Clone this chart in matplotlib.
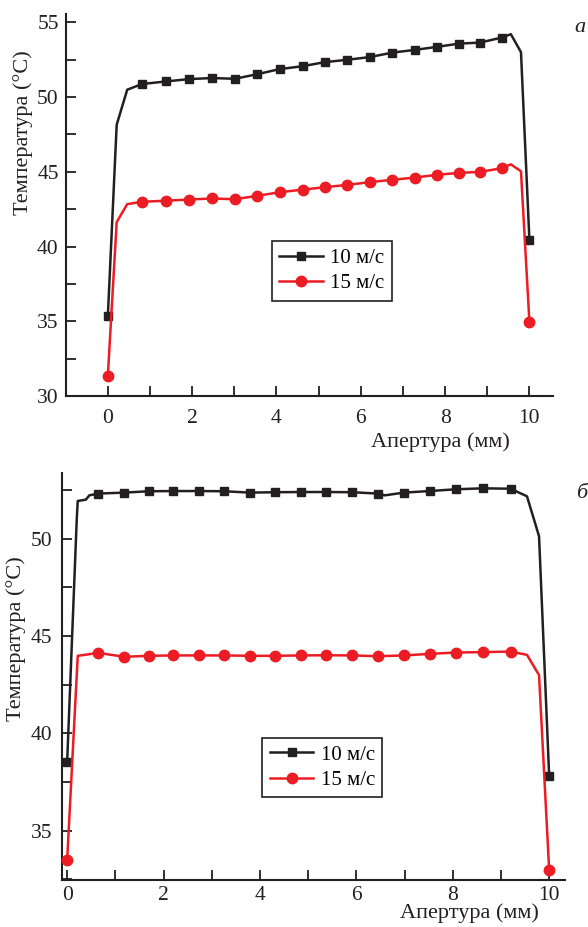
import matplotlib
matplotlib.use("Agg")
import matplotlib.pyplot as plt
from matplotlib.ticker import MultipleLocator

plt.rcParams["font.family"] = ["Liberation Serif", "DejaVu Serif"]

# panel a: aperture (mm) / temperature (C)
a_x10 = [0, 0.21, 0.46, 0.81, 1.37, 1.93, 2.47, 3.01, 3.55, 4.08, 4.62, 5.14, 5.68,
         6.21, 6.75, 7.28, 7.80, 8.33, 8.83, 9.34, 9.56, 9.80, 10.0]
a_t10 = [35.35, 48.15, 50.49, 50.87, 51.04, 51.2, 51.27, 51.22, 51.53, 51.87, 52.06, 52.33,
         52.49, 52.67, 52.97, 53.15, 53.35, 53.57, 53.64, 53.97, 54.2, 53.0, 40.45]
a_m10 = [0] + list(range(3, 20)) + [22]
a_x15 = a_x10
a_t15 = [31.37, 41.64, 42.84, 43.0, 43.07, 43.15, 43.22, 43.17, 43.4, 43.64, 43.81, 43.97,
         44.13, 44.31, 44.47, 44.62, 44.8, 44.93, 45.0, 45.24, 45.5, 45.04, 34.98]
a_m15 = a_m10

# panel b
b_x10 = [0, 0.20, 0.22, 0.39, 0.46, 0.65, 1.18, 1.70, 2.19, 2.73, 3.26, 3.79, 4.32, 4.85,
         5.38, 5.91, 6.45, 6.59, 6.99, 7.52, 8.06, 8.62, 9.20, 9.54, 9.79, 10.0]
b_t10 = [38.53, 51.03, 51.93, 52.0, 52.22, 52.31, 52.36, 52.43, 52.44, 52.44, 52.43, 52.36,
         52.38, 52.39, 52.39, 52.38, 52.31, 52.22, 52.36, 52.44, 52.53, 52.58, 52.56, 52.17,
         50.12, 37.82]
b_m10 = [0, 5, 6, 7, 8, 9, 10, 11, 12, 13, 14, 15, 16, 18, 19, 20, 21, 22, 25]
b_x15 = [0, 0.22, 0.42, 0.65, 1.18, 1.70, 2.19, 2.73, 3.26, 3.79, 4.32, 4.85, 5.38, 5.91,
         6.45, 6.99, 7.52, 8.06, 8.62, 9.20, 9.54, 9.79, 10.0]
b_t15 = [33.5, 43.98, 44.05, 44.13, 43.93, 43.98, 44.0, 44.0, 44.0, 43.98, 43.98, 44.0,
         44.01, 44.0, 43.96, 44.0, 44.08, 44.15, 44.17, 44.2, 44.03, 42.99, 32.98]
b_m15 = [0] + list(range(3, 20)) + [22]

labels = ["10 м/с", "15 м/с"]
BLACK = "#231f20"
RED = "#ec1c24"
TICK_FS = 15.5
LABEL_FS = 16
LEG_FS = 15


def style_axes(ax, xpad, ypad):
    for side in ("top", "right"):
        ax.spines[side].set_visible(False)
    for side in ("left", "bottom"):
        ax.spines[side].set_linewidth(1.5)
        ax.spines[side].set_color(BLACK)
    ax.xaxis.set_major_locator(MultipleLocator(2))
    ax.xaxis.set_minor_locator(MultipleLocator(1))
    ax.yaxis.set_major_locator(MultipleLocator(5))
    ax.yaxis.set_minor_locator(MultipleLocator(2.5))
    ax.tick_params(which="both", direction="in", length=7, width=1.3, color=BLACK,
                   labelsize=TICK_FS, labelcolor=BLACK)
    ax.tick_params(axis="x", which="both", pad=xpad)
    ax.tick_params(axis="y", which="both", pad=ypad)


def draw_panel(ax, x10, t10, m10, x15, t15, m15):
    ax.plot(x10, t10, color=BLACK, lw=1.8, marker="s", ms=6, markevery=m10,
            label=labels[0], clip_on=False, zorder=3)
    ax.plot(x15, t15, color=RED, lw=1.8, marker="o", ms=7.5, markevery=m15,
            label=labels[1], clip_on=False, zorder=3)


def add_legend(ax, anchor):
    leg = ax.legend(loc="upper left", bbox_to_anchor=anchor, borderaxespad=0,
                    fontsize=LEG_FS, fancybox=False, edgecolor=BLACK, framealpha=1,
                    handlelength=2.1, handletextpad=0.35, labelspacing=0.28,
                    borderpad=0.35)
    leg.get_frame().set_linewidth(1.2)


fig = plt.figure(figsize=(5.88, 9.27), dpi=100)

ax1 = fig.add_axes([0.1117, 0.5725, 0.8288, 0.4124])
draw_panel(ax1, a_x10, a_t10, a_m10, a_x15, a_t15, a_m15)
ax1.set_xlim(-1.0, 10.56)
ax1.set_ylim(30, 55.55)
style_axes(ax1, 9, 5)
ax1.set_ylabel("Температура (°С)", fontsize=LABEL_FS, color=BLACK)
ax1.yaxis.set_label_coords(-0.067, 0.691)
ax1.set_xlabel("Апертура (мм)", fontsize=LABEL_FS, color=BLACK)
ax1.xaxis.set_label_coords(0.768, -0.093)
add_legend(ax1, (0.423, 0.406))
fig.text(580 / 588, 1 - 28 / 927, "а", fontsize=16, style="italic",
         ha="center", va="center", color=BLACK)

ax2 = fig.add_axes([0.106, 0.0507, 0.855, 0.4387])
draw_panel(ax2, b_x10, b_t10, b_m10, b_x15, b_t15, b_m15)
ax2.set_xlim(-0.10, 10.33)
ax2.set_ylim(32.47, 53.35)
style_axes(ax2, 4, 7)
ax2.set_ylabel("Температура (°С)", fontsize=LABEL_FS, color=BLACK)
ax2.yaxis.set_label_coords(-0.072, 0.593)
ax2.set_xlabel("Апертура (мм)", fontsize=LABEL_FS, color=BLACK)
ax2.xaxis.set_label_coords(0.809, -0.058)
add_legend(ax2, (0.398, 0.350))
fig.text(582 / 588, 1 - 493 / 927, "б", fontsize=16, style="italic",
         ha="center", va="center", color=BLACK)

fig.savefig("out.png", dpi=100)
